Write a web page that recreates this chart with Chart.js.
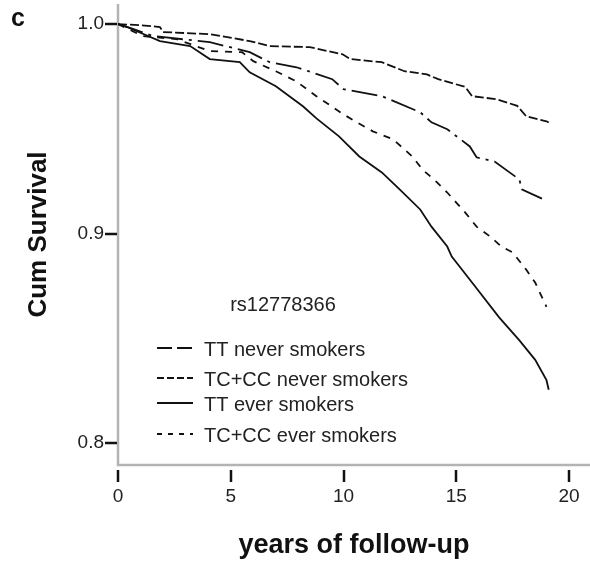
<!DOCTYPE html>
<html>
<head>
<meta charset="utf-8">
<script src="https://cdn.jsdelivr.net/npm/chart.js@4"></script>
<style>
  html, body { margin: 0; padding: 0; background: #fff; }
  #wrap { position: relative; width: 590px; height: 564px; }
</style>
</head>
<body>
<div id="wrap"><canvas id="chart"></canvas></div>
<script>
// Kaplan-Meier curves (years, cumulative survival)
const ttNeverYears = [0, 0.6, 1.55, 4.07, 5.84, 6.73, 7.92, 9.5, 10.0, 11.7, 13.4, 13.9, 14.6, 15.6, 15.9, 16.7, 17.8, 17.9, 18.8];
const ttNeverSurv  = [1.0, 0.998, 0.9943, 0.9914, 0.9866, 0.9818, 0.9794, 0.9737, 0.9689, 0.9656, 0.9579, 0.9531, 0.9498, 0.9416, 0.9364, 0.9344, 0.9258, 0.9211, 0.9167];

const tcNeverYears = [0, 1.0, 1.86, 2.0, 4.07, 5.84, 6.73, 8.5, 9.96, 10.3, 11.7, 12.7, 13.7, 14.2, 15.4, 15.7, 16.8, 17.7, 18.1, 19.0, 19.1];
const tcNeverSurv  = [1.0, 0.9995, 0.9986, 0.9962, 0.9952, 0.9919, 0.9895, 0.989, 0.9856, 0.9833, 0.9818, 0.9775, 0.976, 0.9737, 0.970, 0.9656, 0.9641, 0.961, 0.956, 0.9536, 0.953];

const ttEverYears = [0, 0.4, 1.86, 3.2, 4.07, 5.4, 5.84, 7.0, 8.2, 8.8, 9.8, 10.7, 11.7, 12.5, 13.4, 13.9, 14.6, 14.8, 15.7, 16.9, 17.8, 18.5, 19.0, 19.1];
const ttEverSurv  = [1.0, 0.9986, 0.9919, 0.9895, 0.9833, 0.9818, 0.977, 0.9703, 0.9608, 0.955, 0.9464, 0.9368, 0.9292, 0.921, 0.9115, 0.9033, 0.8938, 0.889, 0.8766, 0.860, 0.849, 0.8397, 0.830, 0.8254];

const tcEverYears = [0, 1.1, 2.6, 4.07, 5.5, 6.0, 7.0, 7.9, 8.8, 10.0, 10.6, 11.3, 12.2, 13.05, 13.5, 14.1, 14.6, 15.0, 15.4, 15.9, 16.5, 17.0, 17.5, 18.1, 18.5, 19.0];
const tcEverSurv  = [1.0, 0.9943, 0.9928, 0.9871, 0.9866, 0.9823, 0.9775, 0.9727, 0.9656, 0.9569, 0.9531, 0.9488, 0.945, 0.9368, 0.9306, 0.9249, 0.9196, 0.9148, 0.910, 0.9033, 0.8986, 0.8938, 0.891, 0.8828, 0.8766, 0.865];

const seriesLabels = ['TT never smokers', 'TC+CC never smokers', 'TT ever smokers', 'TC+CC ever smokers'];
const xTicks = [0, 5, 10, 15, 20];
const yTicks = [0.8, 0.9, 1.0];

const FONT = '"Liberation Sans", Arial, Helvetica, sans-serif';

function toPoints(xs, ys) {
    return xs.map((x, i) => ({ x: x, y: ys[i] }));
}

// dash for the curve and for the little legend sample
const curveDash  = [[26, 6, 3, 6], [9, 3], [], [7, 7]];
const legendDash = [[15, 5], [7, 3], [], [5, 6]];

const decorPlugin = {
    id: 'decor',
    beforeDatasetsDraw(chart) {
        const ctx = chart.ctx;
        const area = chart.chartArea;
        const xs = chart.scales.x;
        const ys = chart.scales.y;
        ctx.save();
        ctx.strokeStyle = '#b3b3b3';
        ctx.lineWidth = 2.5;
        ctx.beginPath();
        ctx.moveTo(area.left, area.top);
        ctx.lineTo(area.left, area.bottom);
        ctx.lineTo(area.right, area.bottom);
        ctx.stroke();

        ctx.strokeStyle = '#111';
        ctx.lineWidth = 2.5;
        yTicks.forEach(v => {
            const p = Math.round(ys.getPixelForValue(v));
            ctx.beginPath();
            ctx.moveTo(area.left - 13, p);
            ctx.lineTo(area.left - 1, p);
            ctx.stroke();
        });
        xTicks.forEach(v => {
            const p = Math.round(xs.getPixelForValue(v));
            ctx.beginPath();
            ctx.moveTo(p, area.bottom + 5);
            ctx.lineTo(p, area.bottom + 17);
            ctx.stroke();
        });
        ctx.restore();
    },
    afterDraw(chart) {
        const ctx = chart.ctx;
        ctx.save();
        ctx.fillStyle = '#111';
        ctx.font = 'bold 25px ' + FONT;
        ctx.textBaseline = 'alphabetic';
        ctx.textAlign = 'left';
        ctx.fillText('c', 11, 26);

        // legend inside the plot
        ctx.font = '20px ' + FONT;
        ctx.fillStyle = '#222';
        ctx.textAlign = 'center';
        ctx.textBaseline = 'middle';
        ctx.fillText('rs12778366', 283, 305);

        const rowY = [348, 378, 403, 434];
        ctx.textAlign = 'left';
        chart.data.datasets.forEach((ds, i) => {
            ctx.strokeStyle = '#111';
            ctx.lineWidth = 1.8;
            ctx.setLineDash(legendDash[i]);
            ctx.beginPath();
            ctx.moveTo(157, rowY[i]);
            ctx.lineTo(193, rowY[i]);
            ctx.stroke();
            ctx.setLineDash([]);
            ctx.fillText(ds.label, 204, rowY[i] + 2);
        });
        ctx.restore();
    }
};

function makeDataset(i, xs, ys) {
    return {
        label: seriesLabels[i],
        data: toPoints(xs, ys),
        borderColor: '#111',
        borderWidth: 1.8,
        borderDash: curveDash[i],
        pointRadius: 0,
        tension: 0,
        fill: false
    };
}

new Chart(document.getElementById('chart'), {
    type: 'line',
    data: {
        datasets: [
            makeDataset(0, ttNeverYears, ttNeverSurv),
            makeDataset(1, tcNeverYears, tcNeverSurv),
            makeDataset(2, ttEverYears, ttEverSurv),
            makeDataset(3, tcEverYears, tcEverSurv)
        ]
    },
    options: {
        responsive: true,
        maintainAspectRatio: false,
        animation: false,
        layout: { padding: { top: 4, right: 0, bottom: 0, left: 0 } },
        plugins: {
            legend: { display: false },
            tooltip: { enabled: false }
        },
        scales: {
            x: {
                type: 'linear',
                min: 0,
                max: 20.93,
                afterFit: s => { s.height = 99; s.paddingLeft = 0; s.paddingRight = 0; },
                afterBuildTicks: s => { s.ticks = xTicks.map(v => ({ value: v })); },
                grid: { display: false, drawTicks: false },
                border: { display: false },
                ticks: {
                    padding: 20,
                    color: '#222',
                    font: { family: FONT, size: 19 }
                },
                title: {
                    display: true,
                    text: 'years of follow-up',
                    color: '#111',
                    font: { family: FONT, size: 27, weight: 'bold' },
                    padding: { top: 0, bottom: 2 }
                }
            },
            y: {
                type: 'linear',
                min: 0.7895,
                max: 1.0096,
                afterFit: s => { s.width = 118; s.paddingTop = 0; s.paddingBottom = 0; },
                afterBuildTicks: s => { s.ticks = yTicks.map(v => ({ value: v })); },
                grid: { display: false, drawTicks: false },
                border: { display: false },
                ticks: {
                    padding: 14,
                    color: '#222',
                    font: { family: FONT, size: 19 },
                    callback: v => v.toFixed(1)
                },
                title: {
                    display: true,
                    text: 'Cum Survival',
                    color: '#111',
                    font: { family: FONT, size: 26, weight: 'bold' },
                    padding: { top: 23, bottom: 0 }
                }
            }
        }
    },
    plugins: [decorPlugin]
});
</script>
</body>
</html>
